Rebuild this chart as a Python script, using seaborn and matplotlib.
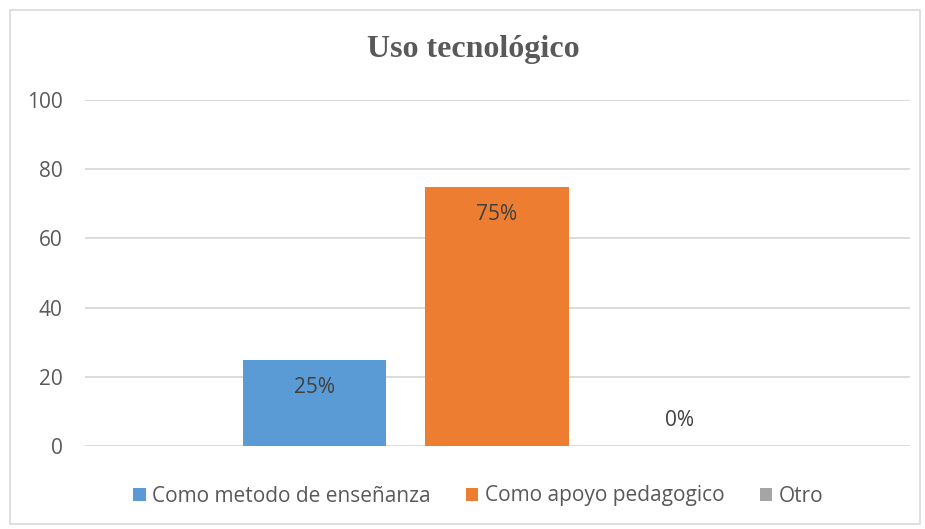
import matplotlib
matplotlib.use("Agg")
import matplotlib.pyplot as plt
import seaborn as sns
import pandas as pd
from matplotlib.patches import Patch, Rectangle

series = ["Como metodo de enseñanza", "Como apoyo pedagogico", "Otro"]
values = [25, 75, 0]
labels = ["25%", "75%", "0%"]
colors = ["#5B9BD5", "#ED7D31", "#A5A5A5"]
yticks = [0, 20, 40, 60, 80, 100]

sns.set_theme(style="white")
plt.rcParams["font.family"] = ["Open Sans", "DejaVu Sans"]

fig = plt.figure(figsize=(9.25, 5.29), dpi=100)
fig.patch.set_facecolor("white")
fig.patches.append(Rectangle((10/925, 5/529), 910/925, 514/529, transform=fig.transFigure,
                             fill=False, edgecolor="#d9d9d9", linewidth=1.2))
ax = fig.add_axes([85/925, 83/529, 825/925, 346/529])

df = pd.DataFrame({"serie": series, "valor": values})
sns.barplot(data=df, x="serie", y="valor", hue="serie", palette=colors,
            width=0.784, dodge=False, legend=False, ax=ax, saturation=1, linewidth=0)

ax.set_xlim(-1.2575, 3.263)
ax.set_ylim(0, 100)
ax.set_yticks(yticks)
ax.set_yticklabels([str(t) for t in yticks], fontsize=15, color="#595959")
ax.set_xticks([])
ax.set_xlabel("")
ax.set_ylabel("")
ax.tick_params(axis="y", length=0, pad=16)
for s in ax.spines.values():
    s.set_visible(False)
ax.yaxis.grid(True, color="#d9d9d9", linewidth=1.3)
ax.set_axisbelow(True)

for i, (v, lab) in enumerate(zip(values, labels)):
    off = -20 if v > 0 else 18
    ax.annotate(lab, (i, v), xytext=(0, off), textcoords="offset points",
                ha="center", va="center", fontsize=15, color="#404040")

fig.text(473/925, 1 - 49/529, "Uso tecnológico", ha="center", va="center",
         fontsize=23, fontweight="bold", color="#595959", family="Liberation Serif")

handles = [Patch(facecolor=c, edgecolor="none") for c in colors]
fig.legend(handles, series, loc="center", bbox_to_anchor=(478/925, 1 - 496/529),
           ncol=3, frameon=False, fontsize=15, handlelength=0.6, handleheight=0.6,
           handletextpad=0.3, columnspacing=1.7, labelcolor="#595959")

fig.savefig("out.png", dpi=100, facecolor="white")
